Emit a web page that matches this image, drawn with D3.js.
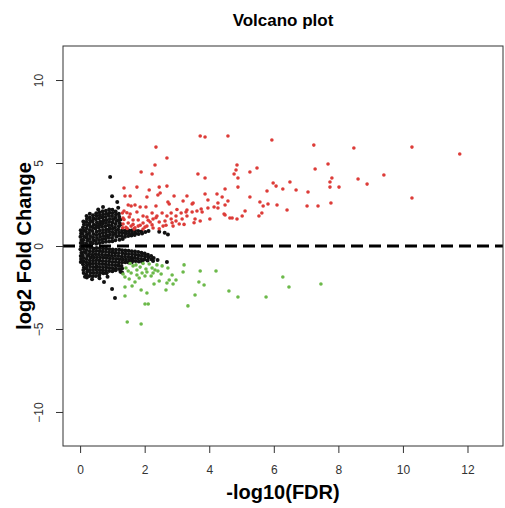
<!DOCTYPE html>
<html>
<head>
<meta charset="utf-8">
<script src="https://cdn.jsdelivr.net/npm/d3@7"></script>
<style>
  body { margin: 0; background: #fff; }
  text { font-family: "Liberation Sans", Arial, sans-serif; }
</style>
</head>
<body>
<script>
// -log10(FDR), log2FC pairs
var upGenes = [
  [3.72,6.63],[3.87,6.57],[4.58,6.63],[5.94,6.39],[7.24,6.08],[8.48,5.90],[10.28,5.96],[11.76,5.54],
  [2.35,5.96],[2.69,5.30],[2.32,4.88],[1.89,4.46],[2.23,4.34],[3.65,4.34],[3.87,4.10],[4.86,4.88],
  [4.83,4.58],[4.77,4.34],[4.89,4.10],[5.48,4.70],[5.26,4.46],[7.28,4.64],[7.68,4.94],[7.80,4.10],
  [7.74,3.86],[7.74,3.55],[8.02,3.55],[8.61,4.04],[8.89,3.73],[9.41,4.28],[10.28,2.89],[5.98,3.80],
  [6.07,3.61],[6.50,3.86],[6.28,3.43],[6.69,3.37],[7.06,3.25],[5.79,3.31],[4.49,3.43],[4.89,3.55],
  [5.26,2.95],[4.58,2.71],[4.49,2.47],[5.57,2.65],[5.82,2.53],[6.10,2.47],[5.67,2.41],[6.41,2.17],
  [7.03,2.41],[7.37,2.41],[7.77,2.59],[5.11,2.11],[5.63,1.99],[5.54,1.81],[5.02,1.81],[4.86,1.63],
  [4.71,1.69],[4.64,1.69],[4.49,1.87],[1.36,3.49],[1.76,3.55],[2.14,3.37],[2.45,3.55],[2.69,3.61],
  [2.48,3.19],[2.41,3.07],[1.39,3.01],[1.55,3.01],[2.07,2.95],[2.91,3.01],[3.31,3.01],[2.72,2.65],
  [2.76,2.53],[3.19,2.71],[3.47,2.53],[3.87,3.13],[4.24,3.13],[4.40,2.95],[3.96,2.77],[4.27,2.59],
  [4.15,2.35],[1.49,2.47],[1.58,2.41],[1.70,2.47],[1.86,2.35],[2.04,2.35],[2.35,2.41],[1.36,2.11],
  [1.55,1.93],[1.76,2.05],[1.95,1.81],[2.07,1.75],[2.23,1.99],[2.38,1.81],[2.54,1.99],[2.69,1.81],
  [2.82,1.99],[2.97,1.81],[3.13,1.99],[3.28,2.05],[3.47,2.05],[3.62,2.11],[3.78,2.05],[3.16,1.63],
  [3.31,1.81],[3.56,1.63],[3.72,1.51],[2.97,1.51],[2.82,1.63],[2.63,1.51],[2.45,1.45],[2.26,1.63],
  [2.17,1.45],[1.95,1.39],[1.80,1.57],[1.64,1.57],[1.49,1.39],[1.33,1.33],[1.58,1.20],[1.80,1.20],
  [2.07,1.20],[2.23,1.27],[2.45,1.04],[2.57,1.20],[2.88,1.20],[3.07,1.33],[1.95,1.02],[1.67,1.03],
  [1.46,1.05],[1.33,1.69],[1.31,1.99],[4.02,1.63],[3.96,2.29],[4.27,2.29],[3.31,2.17],[3.75,2.23],
  [4.46,1.93],[3.50,2.59],[1.32,1.10],[1.42,1.12],[1.70,1.10],[2.01,1.14],[2.26,1.08],[2.66,1.25],
  [3.22,1.30],[3.53,1.40],[1.36,1.60],[1.52,1.75],[1.64,1.30],[1.86,1.25],[2.11,1.55],[2.35,1.70],
  [2.85,1.40],[3.00,2.20],[1.45,2.00]
];

var downGenes = [
  [1.46,-4.58],[1.89,-4.70],[2.01,-3.49],[2.11,-3.49],[3.34,-3.61],[3.56,-2.95],[1.39,-3.01],[1.89,-2.65],
  [2.07,-2.83],[2.66,-2.65],[1.61,-2.41],[1.39,-2.47],[2.29,-2.29],[2.45,-2.11],[2.76,-2.05],[2.88,-2.29],
  [2.97,-2.05],[2.85,-1.75],[2.72,-1.33],[3.22,-1.14],[3.19,-1.57],[3.72,-1.51],[4.21,-1.51],[3.68,-2.17],
  [3.84,-2.35],[4.61,-2.71],[4.89,-3.07],[5.76,-3.07],[6.28,-1.87],[6.47,-2.47],[7.46,-2.29],[1.39,-1.87],
  [1.33,-1.69],[1.58,-1.63],[1.76,-1.45],[1.92,-1.63],[2.07,-1.57],[2.23,-1.33],[2.38,-1.14],[2.41,-1.51],
  [2.51,-1.69],[2.20,-1.81],[2.01,-1.81],[1.83,-1.93],[1.70,-2.17],[1.52,-1.99],[1.55,-1.05],[1.73,-1.14],
  [1.95,-1.05],[2.14,-1.08],[2.26,-1.63],[2.69,-2.23],[1.42,-1.33],[1.64,-1.20],[1.86,-1.27],[2.04,-1.39],
  [1.49,-1.51],[2.32,-1.45],[2.54,-1.20],[1.76,-1.75]
];

var otherGenes = [
  [0.02,0.95],[0.03,0.75],[0.01,0.55],[0.04,0.36],[0.02,0.18],[0.03,-0.02],[0.01,-0.2],[0.04,-0.41],[0.02,-0.6],[0.03,-0.78],[0.02,-0.97],
  [0.1,1.48],[0.12,1.3],[0.09,1.12],[0.11,0.93],[0.08,0.74],[0.12,0.57],[0.1,0.38],[0.09,0.2],[0.11,0.01],[0.1,-0.17],[0.12,-0.36],[0.08,-0.55],[0.11,-0.73],[0.1,-0.92],[0.09,-1.1],[0.12,-1.28],[0.1,-1.45],[0.11,-1.62],
  [0.2,1.8],[0.21,1.62],[0.19,1.44],[0.22,1.25],[0.2,1.07],[0.18,0.88],[0.21,0.7],[0.2,0.51],[0.22,0.32],[0.19,0.13],[0.21,-0.05],[0.2,-0.24],[0.18,-0.42],[0.22,-0.6],[0.2,-0.79],[0.19,-0.98],[0.21,-1.16],[0.2,-1.35],[0.22,-1.53],[0.19,-1.71],[0.21,-1.9],
  [0.3,1.72],[0.31,1.53],[0.29,1.35],[0.32,1.16],[0.3,0.97],[0.28,0.79],[0.31,0.6],[0.3,0.42],[0.32,0.23],[0.29,0.06],[0.31,-0.12],[0.3,-0.31],[0.28,-0.5],[0.32,-0.69],[0.3,-0.87],[0.29,-1.06],[0.31,-1.25],[0.3,-1.44],[0.32,-1.62],[0.29,-1.8],
  [0.4,1.85],[0.41,1.66],[0.39,1.47],[0.42,1.28],[0.4,1.1],[0.38,0.91],[0.41,0.72],[0.4,0.53],[0.42,0.35],[0.39,0.17],[0.41,-0.15],[0.4,-0.33],[0.38,-0.52],[0.42,-0.7],[0.4,-0.89],[0.39,-1.07],[0.41,-1.26],[0.4,-1.45],[0.42,-1.63],[0.39,-1.82],
  [0.5,1.98],[0.51,1.8],[0.49,1.61],[0.52,1.42],[0.5,1.24],[0.48,1.05],[0.51,0.86],[0.5,0.67],[0.52,0.48],[0.49,0.3],[0.5,0.14],[0.51,-0.12],[0.5,-0.3],[0.48,-0.49],[0.52,-0.68],[0.5,-0.86],[0.49,-1.05],[0.51,-1.24],[0.5,-1.42],[0.52,-1.61],[0.49,-1.8],
  [0.6,2.04],[0.61,1.86],[0.59,1.67],[0.62,1.48],[0.6,1.3],[0.58,1.11],[0.61,0.92],[0.6,0.73],[0.62,0.55],[0.59,0.36],[0.6,0.18],[0.61,-0.14],[0.6,-0.32],[0.58,-0.51],[0.62,-0.7],[0.6,-0.88],[0.59,-1.07],[0.61,-1.26],[0.6,-1.44],[0.62,-1.62],[0.59,-1.78],
  [0.7,2.1],[0.71,1.91],[0.69,1.72],[0.72,1.53],[0.7,1.35],[0.68,1.16],[0.71,0.97],[0.7,0.78],[0.72,0.6],[0.69,0.41],[0.7,0.22],[0.71,-0.15],[0.7,-0.33],[0.68,-0.52],[0.72,-0.71],[0.7,-0.9],[0.69,-1.09],[0.71,-1.28],[0.7,-1.46],[0.72,-1.64],
  [0.8,2.12],[0.81,1.94],[0.79,1.75],[0.82,1.56],[0.8,1.38],[0.78,1.19],[0.81,1.0],[0.8,0.81],[0.82,0.63],[0.79,0.44],[0.8,0.25],[0.81,-0.17],[0.8,-0.35],[0.78,-0.54],[0.82,-0.73],[0.8,-0.92],[0.79,-1.1],[0.81,-1.29],[0.8,-1.48],[0.82,-1.64],
  [0.9,2.2],[0.91,2.0],[0.89,1.82],[0.92,1.63],[0.9,1.44],[0.88,1.25],[0.91,1.06],[0.9,0.87],[0.92,0.68],[0.89,0.5],[0.9,0.27],[0.91,-0.19],[0.9,-0.37],[0.88,-0.56],[0.92,-0.75],[0.9,-0.94],[0.89,-1.13],[0.91,-1.32],[0.9,-1.5],
  [1.0,2.18],[1.01,1.99],[0.99,1.8],[1.02,1.61],[1.0,1.42],[0.98,1.23],[1.01,1.04],[1.0,0.85],[1.02,0.66],[0.99,0.48],[1.0,0.29],[1.01,-0.21],[1.0,-0.39],[0.98,-0.58],[1.02,-0.77],[1.0,-0.96],[0.99,-1.15],[1.01,-1.34],[1.0,-1.52],
  [1.1,2.08],[1.11,1.89],[1.09,1.7],[1.12,1.51],[1.1,1.32],[1.08,1.13],[1.11,0.94],[1.1,0.75],[1.12,0.56],[1.09,0.34],[1.11,-0.22],[1.1,-0.4],[1.08,-0.59],[1.12,-0.78],[1.1,-0.97],[1.09,-1.16],[1.11,-1.35],[1.1,-1.46],
  [1.2,1.95],[1.21,1.76],[1.19,1.57],[1.22,1.38],[1.2,1.19],[1.18,1.0],[1.21,0.82],[1.2,0.62],[1.22,0.38],[1.21,-0.23],[1.2,-0.42],[1.18,-0.61],[1.22,-0.8],[1.2,-0.99],[1.19,-1.18],[1.21,-1.38],
  [1.3,0.95],[1.31,0.78],[1.29,0.6],[1.32,0.42],[1.26,1.3],[1.25,1.6],[1.3,-0.25],[1.31,-0.44],[1.29,-0.63],[1.32,-0.82],[1.3,-1.0],[1.28,-1.2],[1.3,-1.36],
  [1.4,0.92],[1.41,0.75],[1.39,0.56],[1.4,-0.27],[1.41,-0.46],[1.39,-0.65],[1.42,-0.83],[1.4,-0.98],
  [1.5,0.93],[1.51,0.77],[1.49,0.6],[1.5,-0.29],[1.51,-0.48],[1.49,-0.67],[1.52,-0.85],[1.5,-0.99],
  [1.6,0.94],[1.61,0.78],[1.59,0.63],[1.6,-0.31],[1.61,-0.5],[1.59,-0.69],[1.62,-0.87],[1.6,-0.98],
  [1.7,0.92],[1.71,0.76],[1.69,0.66],[1.7,-0.33],[1.71,-0.52],[1.69,-0.71],[1.72,-0.9],
  [1.8,0.9],[1.81,0.73],[1.8,-0.36],[1.81,-0.55],[1.79,-0.74],[1.82,-0.93],
  [1.9,0.88],[1.92,0.76],[1.9,-0.4],[1.91,-0.59],[1.89,-0.78],[1.92,-0.95],
  [2.02,0.85],[2.0,-0.45],[2.01,-0.64],[1.99,-0.82],
  [2.12,0.9],[2.1,-0.52],[2.11,-0.7],[2.09,-0.88],
  [2.2,-0.6],[2.21,-0.8],[2.28,-0.72],[2.26,-0.9],
  [2.45,0.86],[2.62,0.8],[2.72,0.7],[2.69,-0.96],[2.4,-0.85],
  [0.93,4.16],[0.99,3.0],[1.15,2.65],[0.71,2.35],[1.18,2.3],[0.56,2.2],[0.3,1.95],[0.74,-2.17],
  [0.99,-2.59],[1.08,-3.13],[0.37,-2.0],[0.6,-1.95],[0.85,-1.85],[0.15,-1.85],[1.25,-1.55],[1.3,-1.6]
];

var xTicks = [0, 2, 4, 6, 8, 10, 12];
var yTicks = [-10, -5, 0, 5, 10];

var W = 505, H = 508;
var plotL = 63, plotR = 503, plotT = 46, plotB = 446;

var svg = d3.select("body").append("svg")
  .attr("width", W)
  .attr("height", H);

var x = d3.scaleLinear().domain([-0.53, 13.1]).range([plotL, plotR]);
var y = d3.scaleLinear().domain([-12.05, 12.05]).range([plotB, plotT]);

// points
var plot = svg.append("g");
function dots(data, col, r) {
  plot.selectAll(null).data(data).enter().append("circle")
    .attr("cx", d => x(d[0]))
    .attr("cy", d => y(d[1]))
    .attr("r", r)
    .style("fill", col);
}
dots(otherGenes, "#111", 2.0);
dots(upGenes, "#dd3c38", 1.8);
dots(downGenes, "#6cb94a", 1.8);

// zero line
svg.append("line")
  .attr("x1", plotL).attr("x2", plotR)
  .attr("y1", y(0)).attr("y2", y(0))
  .style("stroke", "#000").style("stroke-width", 3)
  .style("stroke-dasharray", "12,6");

// box
svg.append("rect")
  .attr("x", plotL).attr("y", plotT)
  .attr("width", plotR - plotL).attr("height", plotB - plotT)
  .style("fill", "none").style("stroke", "#333").style("stroke-width", 1);

// x axis
var xAxis = svg.append("g")
  .attr("transform", "translate(0," + plotB + ")")
  .call(d3.axisBottom(x).tickValues(xTicks).tickSize(7).tickPadding(12));
xAxis.select(".domain").remove();
xAxis.selectAll("line").style("stroke", "#333");
xAxis.selectAll("text").style("font-size", "12px").style("fill", "#333")
  .style("font-family", "Liberation Sans, Arial, sans-serif");

// y axis
var yAxis = svg.append("g")
  .attr("transform", "translate(" + plotL + ",0)")
  .call(d3.axisLeft(y).tickValues(yTicks).tickSize(7).tickFormat(d => d < 0 ? "\u2212" + (-d) : d));
yAxis.select(".domain").remove();
yAxis.selectAll("line").style("stroke", "#333");
yAxis.selectAll("text")
  .attr("x", 0).attr("y", 0)
  .attr("dy", "0.35em")
  .attr("transform", "translate(-24,0) rotate(-90)")
  .attr("text-anchor", "middle")
  .style("font-size", "12px").style("fill", "#333")
  .style("font-family", "Liberation Sans, Arial, sans-serif");

// titles
svg.append("text").attr("x", (plotL + plotR) / 2).attr("y", 26)
  .attr("text-anchor", "middle").style("font-size", "17px").style("font-weight", "bold")
  .text("Volcano plot");
svg.append("text").attr("x", (plotL + plotR) / 2).attr("y", 499)
  .attr("text-anchor", "middle").style("font-size", "20px").style("font-weight", "bold")
  .text("-log10(FDR)");
svg.append("text").attr("transform", "translate(31," + y(0) + ") rotate(-90)")
  .attr("text-anchor", "middle").style("font-size", "20px").style("font-weight", "bold")
  .text("log2 Fold Change");
</script>
</body>
</html>
